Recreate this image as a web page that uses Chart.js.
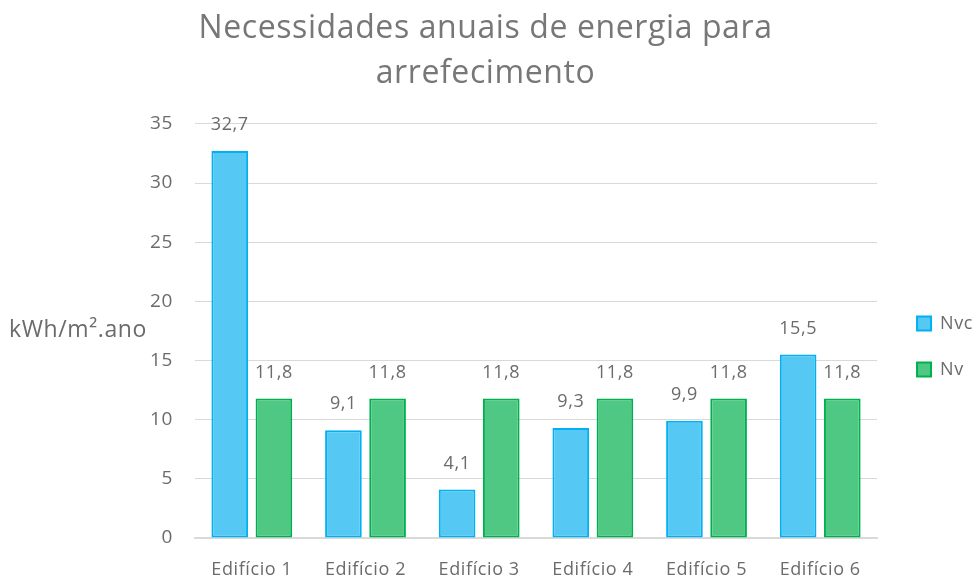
<!DOCTYPE html>
<html>
<head>
<meta charset="utf-8">
<script src="https://cdn.jsdelivr.net/npm/chart.js@4/dist/chart.umd.min.js"></script>
<style>
  html, body { margin: 0; padding: 0; background: #fff; }
  #wrap { width: 975px; height: 583px; }
</style>
</head>
<body>
<div id="wrap"><canvas id="chart" width="975" height="583"></canvas></div>
<script>
const categories = ["Edifício 1", "Edifício 2", "Edifício 3", "Edifício 4", "Edifício 5", "Edifício 6"];
const nvcValues = [32.7, 9.1, 4.1, 9.3, 9.9, 15.5];
const nvValues = [11.8, 11.8, 11.8, 11.8, 11.8, 11.8];
const yTicks = [0, 5, 10, 15, 20, 25, 30, 35];

const FONT = "'Open Sans', sans-serif";
const GREY = "#6b6b6b";
const SPACING = "0.6px";

// a little letter spacing, like the original
const spacing = {
    id: "spacing",
    beforeUpdate(chart) { chart.ctx.letterSpacing = SPACING; },
    beforeDraw(chart) { chart.ctx.letterSpacing = SPACING; }
};

// nudge the legend to where the original has it
const legendShift = {
    id: "legendShift",
    afterLayout(chart) {
        const lg = chart.legend;
        lg.left += 12; lg.right += 12;
        lg.top += 54; lg.bottom += 54;
    }
};

// value labels above every bar
const barLabels = {
    id: "barLabels",
    afterDatasetsDraw(chart) {
        const ctx = chart.ctx;
        ctx.save();
        ctx.font = "18px " + FONT;
        ctx.fillStyle = GREY;
        ctx.textAlign = "center";
        ctx.textBaseline = "middle";
        chart.data.datasets.forEach((ds, i) => {
            chart.getDatasetMeta(i).data.forEach((bar, j) => {
                ctx.fillText(ds.data[j].toFixed(1).replace(".", ","), bar.x, bar.y - 26);
            });
        });
        ctx.restore();
    }
};

// horizontal axis title on the left
const yTitle = {
    id: "yTitle",
    afterDraw(chart) {
        const ctx = chart.ctx;
        ctx.save();
        ctx.font = "23px " + FONT;
        ctx.fillStyle = GREY;
        ctx.textAlign = "left";
        ctx.textBaseline = "middle";
        ctx.fillText("kWh/m².ano", 9, 330);
        ctx.restore();
    }
};

new Chart(document.getElementById("chart").getContext("2d"), {
    type: "bar",
    data: {
        labels: categories,
        datasets: [{
            label: "Nvc",
            data: nvcValues,
            backgroundColor: "#55c9f3",
            borderColor: "#00b0f0",
            borderWidth: 2,
            borderSkipped: false
        }, {
            label: "Nv",
            data: nvValues,
            backgroundColor: "#4fc884",
            borderColor: "#00b050",
            borderWidth: 2,
            borderSkipped: false
        }]
    },
    options: {
        responsive: false,
        animation: false,
        categoryPercentage: 0.777,
        barPercentage: 0.83,
        layout: {
            padding: { top: 6, bottom: 4, left: 0, right: 4 }
        },
        plugins: {
            title: {
                display: true,
                text: ["Necessidades anuais de energia para", "arrefecimento"],
                color: "#777777",
                font: { family: FONT, size: 32, weight: "normal", lineHeight: 1.42 },
                padding: { top: 0, bottom: 27 }
            },
            legend: {
                position: "right",
                labels: {
                    color: GREY,
                    font: { family: FONT, size: 18 },
                    boxWidth: 14,
                    boxHeight: 14,
                    padding: 28
                }
            },
            tooltip: { enabled: false }
        },
        scales: {
            x: {
                afterFit: axis => { axis.height = 41; },
                grid: { display: false },
                border: { color: "#d9d9d9", width: 2 },
                ticks: { color: GREY, font: { family: FONT, size: 18 }, padding: 13 }
            },
            y: {
                min: 0,
                max: 35,
                afterBuildTicks: axis => { axis.ticks = yTicks.map(v => ({ value: v })); },
                afterFit: axis => { axis.width = 195; },
                grid: { color: "#d9d9d9", drawTicks: false },
                border: { display: false },
                ticks: { color: GREY, font: { family: FONT, size: 19 }, padding: 22 }
            }
        }
    },
    plugins: [spacing, legendShift, barLabels, yTitle]
});
</script>
</body>
</html>
